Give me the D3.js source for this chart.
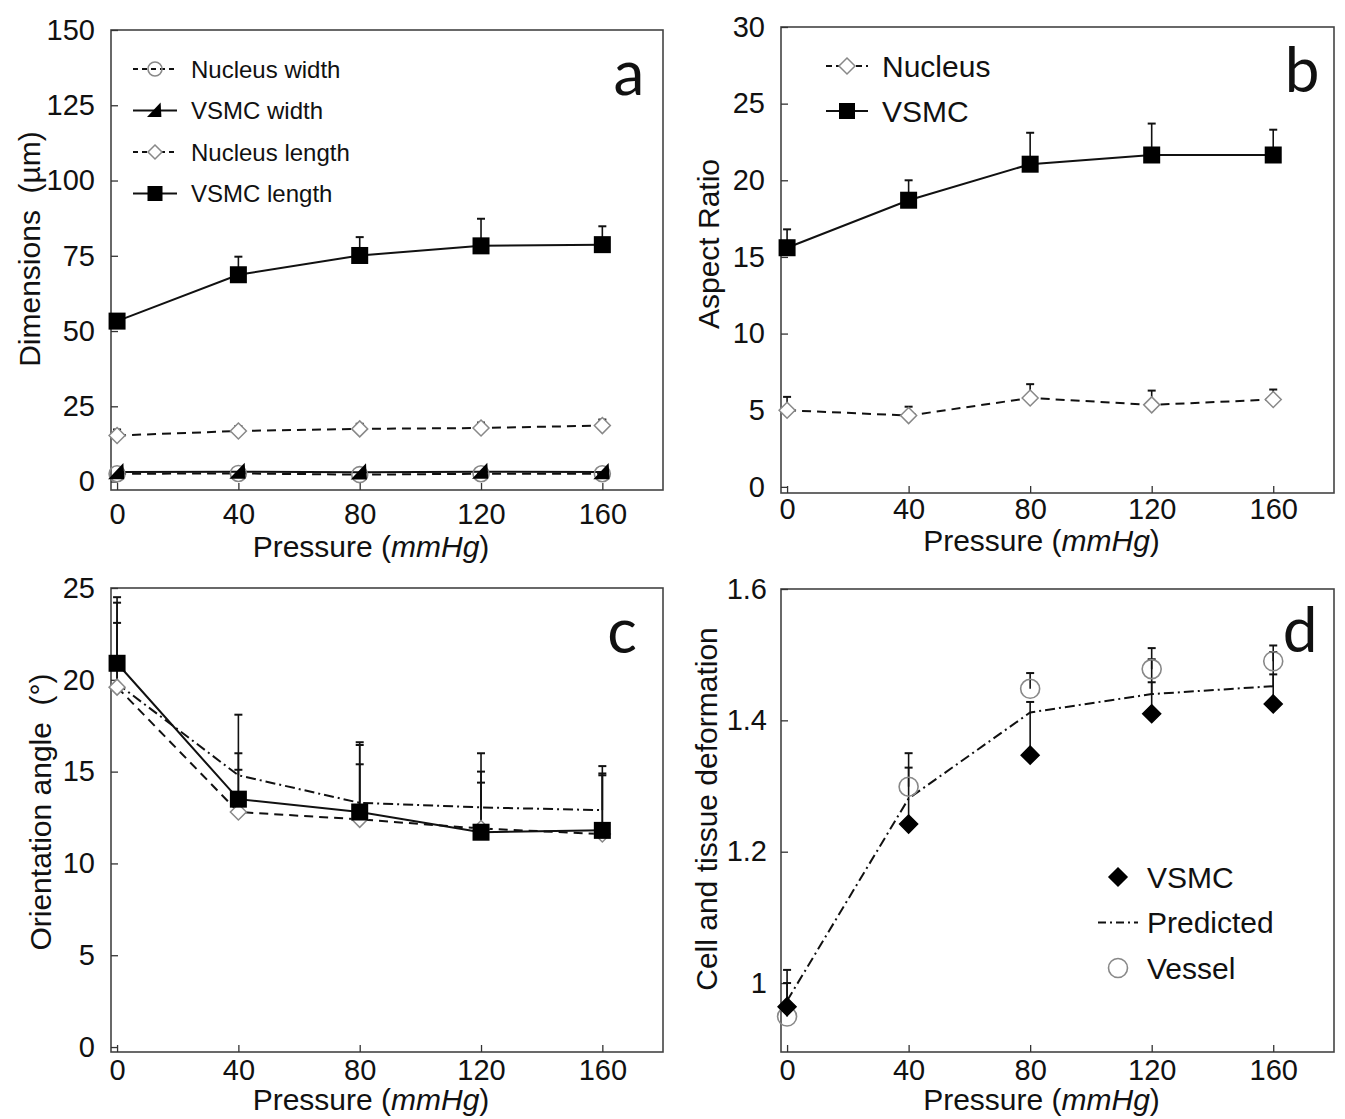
<!DOCTYPE html>
<html>
<head>
<meta charset="utf-8">
<script src="https://cdn.jsdelivr.net/npm/d3@7"></script>
<style>
body { margin: 0; background: #fff; }
text { font-family: "Liberation Sans", Arial, sans-serif; fill: #111; }
</style>
</head>
<body>
<script>
//shared x values
var pressure = [0, 40, 80, 120, 160];
var xTicks = [0, 40, 80, 120, 160];

//panel a - dimensions
var aNames = ["Nucleus width", "VSMC width", "Nucleus length", "VSMC length"];
var aNucWidth = [2.6, 2.7, 2.3, 2.6, 2.6];
var aVsmcWidth = [3.2, 3.3, 3.1, 3.3, 3.2];
var aNucLength = [15.3, 16.8, 17.5, 17.8, 18.6];
var aNucLengthErr = [17.3, 18.4, 19.2, 19.6, 20.6];
var aVsmcLength = [53.3, 68.7, 75.1, 78.3, 78.7];
var aVsmcLengthErr = [55.0, 74.7, 81.2, 87.3, 84.8];
var aTicks = [0, 25, 50, 75, 100, 125, 150];

//panel b - aspect ratio
var bNames = ["Nucleus", "VSMC"];
var bNucleus = [5.0, 4.65, 5.8, 5.35, 5.7];
var bNucleusErr = [5.87, 5.23, 6.7, 6.28, 6.35];
var bVsmc = [15.6, 18.7, 21.05, 21.65, 21.65];
var bVsmcErr = [16.8, 20.0, 23.1, 23.7, 23.3];
var bTicks = [0, 5, 10, 15, 20, 25, 30];

//panel c - orientation angle
var cVsmc = [20.9, 13.5, 12.8, 11.7, 11.8];
var cVsmcErr = [24.5, 18.1, 16.6, 16.0, 15.3];
var cNucleus = [19.6, 12.8, 12.4, 11.9, 11.6];
var cNucleusErr = [23.1, 15.1, 15.4, 14.4, 14.8];
var cPredicted = [19.8, 14.8, 13.3, 13.05, 12.9];
var cPredictedErr = [24.2, 16.0, 16.45, 15.0, 14.9];
var cTicks = [0, 5, 10, 15, 20, 25];

//panel d - deformation
var dNames = ["VSMC", "Predicted", "Vessel"];
var dVsmc = [0.964, 1.242, 1.347, 1.41, 1.425];
var dVsmcErr = [1.0, 1.328, 1.428, 1.458, 1.47];
var dPredicted = [0.973, 1.281, 1.412, 1.44, 1.452];
var dPredictedErr = [null, null, null, 1.493, 1.504];
var dVessel = [0.949, 1.299, 1.448, 1.478, 1.49];
var dVesselErr = [1.02, 1.35, 1.472, 1.51, 1.514];
var dTicks = [1, 1.2, 1.4, 1.6];

var svg = d3.select("body").append("svg")
    .attr("width", 1345).attr("height", 1119);

var DASH = "9,6", DASHDOT = "10,4,2,4";

function drawMarker(g, type, cx, cy, r) {
    if (type == "square") {
        g.append("rect").attr("x", cx - r).attr("y", cy - r).attr("width", 2 * r).attr("height", 2 * r)
            .attr("fill", "#000");
    } else if (type == "diamondOpen" || type == "diamondFill") {
        g.append("path")
            .attr("d", "M" + cx + "," + (cy - r) + "L" + (cx + r) + "," + cy + "L" + cx + "," + (cy + r) + "L" + (cx - r) + "," + cy + "Z")
            .attr("fill", type == "diamondFill" ? "#000" : "#fff")
            .attr("stroke", type == "diamondFill" ? "#000" : "#888")
            .attr("stroke-width", 1.5);
    } else if (type == "circleOpen") {
        g.append("circle").attr("cx", cx).attr("cy", cy).attr("r", r)
            .attr("fill", "none").attr("stroke", "#888").attr("stroke-width", 1.6);
    } else if (type == "triangle") {
        g.append("path")
            .attr("d", "M" + (cx + r * 0.7) + "," + (cy - r) + "L" + (cx + r * 0.8) + "," + (cy + r * 0.8) + "L" + (cx - r) + "," + (cy + r * 0.8) + "Z")
            .attr("fill", "#000");
    }
}

function panel(cfg) {
    var g = svg.append("g");
    var x = d3.scaleLinear().domain([-2, 180]).range([cfg.left, cfg.right]);
    var y = d3.scaleLinear().domain(cfg.yDomain).range([cfg.bottom, cfg.top]);

    g.append("rect")
        .attr("x", cfg.left).attr("y", cfg.top)
        .attr("width", cfg.right - cfg.left).attr("height", cfg.bottom - cfg.top)
        .attr("fill", "none").attr("stroke", "#444").attr("stroke-width", 1.6);

    //ticks point inwards on both axes
    var ya = g.append("g").attr("transform", "translate(" + cfg.left + ",0)")
        .call(d3.axisLeft(y).tickValues(cfg.yTicks).tickSizeInner(-7).tickSizeOuter(0).tickPadding(cfg.yPad || 16)
            .tickFormat(cfg.fmt || d3.format("d")));
    ya.select(".domain").remove();
    ya.selectAll("text").style("font-size", "29px").attr("fill", "#111");
    ya.selectAll("line").attr("stroke", "#333").attr("stroke-width", 1.3);

    var xa = g.append("g").attr("transform", "translate(0," + cfg.bottom + ")")
        .call(d3.axisBottom(x).tickValues(xTicks).tickSizeInner(-7).tickSizeOuter(0).tickPadding(cfg.xPad)
            .tickFormat(d3.format("d")));
    xa.select(".domain").remove();
    xa.selectAll("text").style("font-size", "29px").attr("fill", "#111");
    xa.selectAll("line").attr("stroke", "#333").attr("stroke-width", 1.3);

    //lines
    cfg.series.forEach(function(s) {
        if (!s.line) return;
        g.append("path")
            .datum(s.values)
            .attr("fill", "none")
            .attr("stroke", "#111")
            .attr("stroke-width", 2)
            .attr("stroke-dasharray", s.dash || null)
            .attr("d", d3.line().x(function(d, i) { return x(pressure[i]); }).y(function(d) { return y(d); }));
    });

    //error bars (upper only)
    cfg.series.forEach(function(s) {
        if (!s.err) return;
        s.err.forEach(function(e, i) {
            if (e == null) return;
            var px = x(pressure[i]);
            g.append("line").attr("x1", px).attr("x2", px)
                .attr("y1", y(s.values[i])).attr("y2", y(e))
                .attr("stroke", "#111").attr("stroke-width", 1.6);
            g.append("line").attr("x1", px - 4).attr("x2", px + 4)
                .attr("y1", y(e)).attr("y2", y(e))
                .attr("stroke", "#111").attr("stroke-width", 2);
        });
    });

    //markers
    cfg.series.forEach(function(s) {
        if (!s.marker) return;
        s.values.forEach(function(v, i) {
            drawMarker(g, s.marker, x(pressure[i]), y(v), s.r);
        });
    });

    //legend
    if (cfg.legend) {
        var L = cfg.legend;
        L.items.forEach(function(it, i) {
            var ly = L.y + i * L.dy;
            if (it.line) {
                g.append("line").attr("x1", L.x - L.half).attr("x2", L.x + L.half)
                    .attr("y1", ly).attr("y2", ly)
                    .attr("stroke", "#111").attr("stroke-width", 2)
                    .attr("stroke-dasharray", it.dash || null);
            }
            if (it.marker) drawMarker(g, it.marker, L.x, ly, it.r);
            g.append("text").attr("x", L.tx).attr("y", ly).attr("dy", "0.36em")
                .style("font-size", L.size + "px").text(it.name);
        });
    }

    //panel letter
    g.append("text").attr("x", cfg.letterX).attr("y", cfg.letterY)
        .attr("text-anchor", "middle")
        .style("font-family", "Lato, 'Open Sans', sans-serif")
        .style("font-size", "62px").text(cfg.letter);

    //axis titles
    var xt = g.append("text")
        .attr("x", (cfg.left + cfg.right) / 2 - 16).attr("y", cfg.bottom + cfg.xTitleOff)
        .attr("text-anchor", "middle").style("font-size", "30px");
    xt.append("tspan").text("Pressure (");
    xt.append("tspan").style("font-style", "italic").text("mmHg");
    xt.append("tspan").text(")");

    g.append("text")
        .attr("transform", "translate(" + cfg.yTitleX + "," + cfg.yTitleY + ") rotate(-90)")
        .attr("text-anchor", "middle").attr("dy", "0.36em")
        .style("font-size", "30px").text(cfg.yTitle);
}

panel({
    left: 111, right: 663, top: 30, bottom: 490,
    yDomain: [-2.8, 150], yTicks: aTicks,
    xPad: 13, xTitleOff: 67,
    letter: "a", letterX: 629, letterY: 95,
    yTitle: "Dimensions\u00a0\u00a0(\u00b5m)", yTitleX: 29, yTitleY: 249,
    series: [
        {values: aNucWidth, line: true, dash: DASH, marker: "circleOpen", r: 8},
        {values: aVsmcWidth, line: true, marker: "triangle", r: 9},
        {values: aNucLength, err: aNucLengthErr, line: true, dash: DASH, marker: "diamondOpen", r: 8},
        {values: aVsmcLength, err: aVsmcLengthErr, line: true, marker: "square", r: 8.5}
    ],
    legend: {x: 155, half: 22, tx: 191, y: 69, dy: 41.5, size: 24, items: [
        {name: aNames[0], line: true, dash: "5,4", marker: "circleOpen", r: 7},
        {name: aNames[1], line: true, marker: "triangle", r: 8},
        {name: aNames[2], line: true, dash: "5,4", marker: "diamondOpen", r: 7},
        {name: aNames[3], line: true, marker: "square", r: 7.5}
    ]}
});

panel({
    left: 781, right: 1334, top: 27, bottom: 493,
    yDomain: [-0.4, 30], yTicks: bTicks,
    xPad: 5, xTitleOff: 58,
    letter: "b", letterX: 1302, letterY: 92,
    yTitle: "Aspect Ratio", yTitleX: 708, yTitleY: 244,
    series: [
        {values: bNucleus, err: bNucleusErr, line: true, dash: DASH, marker: "diamondOpen", r: 8},
        {values: bVsmc, err: bVsmcErr, line: true, marker: "square", r: 8.5}
    ],
    legend: {x: 847, half: 21, tx: 882, y: 66, dy: 45, size: 30, items: [
        {name: bNames[0], line: true, dash: "6,4", marker: "diamondOpen", r: 8},
        {name: bNames[1], line: true, marker: "square", r: 8}
    ]}
});

panel({
    left: 111, right: 663, top: 588, bottom: 1052,
    yDomain: [-0.27, 25], yTicks: cTicks,
    xPad: 7, xTitleOff: 58,
    letter: "c", letterX: 622, letterY: 653,
    yTitle: "Orientation angle\u00a0\u00a0(\u00b0)", yTitleX: 40, yTitleY: 812,
    series: [
        {values: cPredicted, err: cPredictedErr, line: true, dash: DASHDOT},
        {values: cNucleus, err: cNucleusErr, line: true, dash: DASH, marker: "diamondOpen", r: 8},
        {values: cVsmc, err: cVsmcErr, line: true, marker: "square", r: 8.5}
    ]
});

panel({
    left: 781, right: 1334, top: 589, bottom: 1052,
    yDomain: [0.895, 1.6], yTicks: dTicks,
    xPad: 7, xTitleOff: 58, yPad: 14,
    fmt: function(d) { return d == 1 ? "1" : d.toFixed(1); },
    letter: "d", letterX: 1300, letterY: 652,
    yTitle: "Cell and tissue deformation", yTitleX: 706, yTitleY: 809,
    series: [
        {values: dPredicted, err: dPredictedErr, line: true, dash: DASHDOT},
        {values: dVessel, err: dVesselErr, marker: "circleOpen", r: 9.5},
        {values: dVsmc, err: dVsmcErr, marker: "diamondFill", r: 9}
    ],
    legend: {x: 1118, half: 20, tx: 1147, y: 877, dy: 45.5, size: 30, items: [
        {name: dNames[0], marker: "diamondFill", r: 9},
        {name: dNames[1], line: true, dash: "8,4,2,4"},
        {name: dNames[2], marker: "circleOpen", r: 9.5}
    ]}
});
</script>
</body>
</html>
